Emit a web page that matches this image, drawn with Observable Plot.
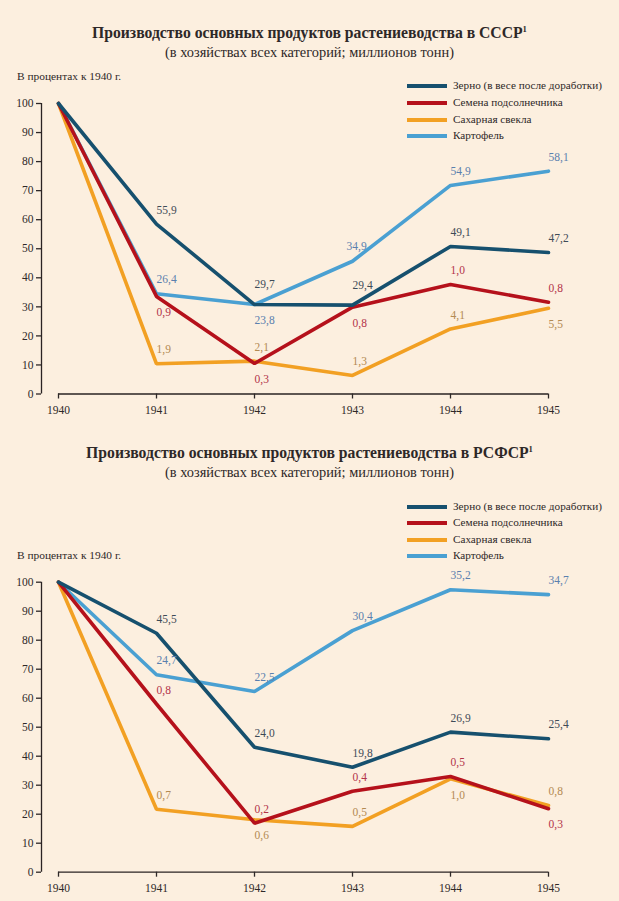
<!DOCTYPE html>
<html><head><meta charset="utf-8">
<script src="https://cdn.jsdelivr.net/npm/d3@7"></script>
<script src="https://cdn.jsdelivr.net/npm/@observablehq/plot@0.6"></script>
<style>
body{margin:0;background:#fcefdf;font-family:"Liberation Serif","DejaVu Serif",serif;color:#2e2828}
#page{position:relative;width:619px;height:901px;overflow:hidden;background:#fcefdf}
.t{position:absolute;left:0;width:619px;text-align:center;line-height:1;white-space:nowrap}
.title{font-weight:bold;font-size:15.7px;top:0}
.sub{font-size:14.4px}
.unit{position:absolute;left:17px;font-size:11.4px;line-height:1;white-space:nowrap}
.leg{position:absolute;left:407px;font-size:11.2px;line-height:1;white-space:nowrap}
.leg span.sw{position:absolute;left:0;top:4px;width:40px;height:4px}
.leg span.tx{position:absolute;left:46px;top:0}
.plot{position:absolute;left:0}
svg.plot, svg.plot text{font-family:"Liberation Serif","DejaVu Serif",serif !important}
sup{font-size:0.55em;vertical-align:0.7em;line-height:0}
</style></head>
<body><div id="page"></div>
<script>
// ---------- data ----------
const years = [1940, 1941, 1942, 1943, 1944, 1945];
const seriesNames = ["Зерно (в весе после доработки)", "Семена подсолнечника", "Сахарная свекла", "Картофель"];
const yTicks = [0, 10, 20, 30, 40, 50, 60, 70, 80, 90, 100];

// СССР: % к 1940 г.
const ussrGrain     = [100, 58.5, 30.8, 30.6, 50.8, 48.7];
const ussrSunflower = [100, 33.6, 10.5, 29.9, 37.7, 31.6];
const ussrBeet      = [100, 10.4, 11.3, 6.4, 22.4, 29.5];
const ussrPotato    = [100, 34.5, 30.8, 45.7, 71.8, 76.7];
// СССР: млн т (1941–1945)
const ussrGrainMt     = ["55,9", "29,7", "29,4", "49,1", "47,2"];
const ussrSunflowerMt = ["0,9", "0,3", "0,8", "1,0", "0,8"];
const ussrBeetMt      = ["1,9", "2,1", "1,3", "4,1", "5,5"];
const ussrPotatoMt    = ["26,4", "23,8", "34,9", "54,9", "58,1"];

// РСФСР: % к 1940 г.
const rsfsrGrain     = [100, 82.4, 43.1, 36.2, 48.3, 46.0];
const rsfsrSunflower = [100, 58.0, 16.9, 27.9, 33.0, 21.9];
const rsfsrBeet      = [100, 21.7, 18.1, 15.8, 32.2, 23.0];
const rsfsrPotato    = [100, 68.1, 62.3, 83.3, 97.4, 95.7];
// РСФСР: млн т (1941–1945)
const rsfsrGrainMt     = ["45,5", "24,0", "19,8", "26,9", "25,4"];
const rsfsrSunflowerMt = ["0,8", "0,2", "0,4", "0,5", "0,3"];
const rsfsrBeetMt      = ["0,7", "0,6", "0,5", "1,0", "0,8"];
const rsfsrPotatoMt    = ["24,7", "22,5", "30,4", "35,2", "34,7"];

// ---------- layout / style ----------
const lineColors  = ["#16506e", "#b5111b", "#f2a023", "#4aa0d2"];
const labelColors = ["#3e4b57", "#b3344a", "#b38a52", "#5a80ae"];
// label placement: a = above, h = higher above, b = below, L = above, shifted left
const ussrPlace  = [["a","h","h","a","a"], ["b","b","b","a","a"], ["a","a","a","a","b"], ["a","b","L","a","a"]];
const rsfsrPlace = [["a","a","a","a","a"], ["a","a","a","a","b"], ["a","b","a","b","a"], ["a","a","a","a","a"]];
const drawOrder = [3, 2, 1, 0];
const placeDy = {a: -14, h: -20, b: 16, L: -15};
const placeDx = {a: 0, h: 0, b: 0, L: -6};
const serif = "'Liberation Serif', 'DejaVu Serif', serif";

function buildChart(values, mts, places, svgTop, marginTop, height, marginBottom) {
  const marks = [
    Plot.ruleX([1940], {y1: 0, y2: 100, dx: -17, stroke: "#2a2323", strokeWidth: 1.3}),
    Plot.ruleY([0], {x1: 1940, x2: 1945, stroke: "#2a2323", strokeWidth: 1.3}),
    Plot.axisY({ticks: yTicks, tickSize: 5, tickPadding: 3, label: null, strokeWidth: 1.3, fontFamily: serif, fontSize: 11.5}),
    Plot.axisX({ticks: years, tickFormat: d => String(d), tickSize: 5, tickPadding: 7, label: null, strokeWidth: 1.3, fontFamily: serif, fontSize: 11.5})
  ];
  for (const s of drawOrder) {
    const pts = years.map((year, i) => ({year, value: values[s][i]}));
    marks.push(Plot.line(pts, {x: "year", y: "value", stroke: lineColors[s], strokeWidth: 3.6, strokeLinejoin: "miter"}));
  }
  for (const s of drawOrder) {
    const labs = years.slice(1).map((year, i) => ({year, value: values[s][i + 1], text: mts[s][i], place: places[s][i]}));
    for (const p of ["a", "h", "b", "L"]) {
      marks.push(Plot.text(labs.filter(d => d.place === p), {
        x: "year", y: "value", text: "text", fill: labelColors[s],
        textAnchor: "start", dx: placeDx[p], dy: placeDy[p], fontSize: 11.5, fontFamily: serif
      }));
    }
  }
  const svg = Plot.plot({
    width: 619, height, marginTop, marginBottom, marginLeft: 41, marginRight: 71,
    x: {domain: [1940, 1945], insetLeft: 17},
    y: {domain: [0, 100]},
    style: {background: "transparent", color: "#2e2828", fontFamily: serif, fontSize: "11.5px", overflow: "visible"},
    marks
  });
  svg.classList.add("plot");
  svg.style.top = svgTop + "px";
  return svg;
}

const page = document.getElementById("page");
function addText(cls, top, html) {
  const d = document.createElement("div");
  d.className = cls; d.style.top = top + "px"; d.innerHTML = html;
  page.appendChild(d);
}
function addLegend(tops) {
  seriesNames.forEach((name, i) => {
    const d = document.createElement("div");
    d.className = "leg"; d.style.top = tops[i] + "px";
    d.innerHTML = `<span class="sw" style="background:${lineColors[i]}"></span><span class="tx">${name}</span>`;
    page.appendChild(d);
  });
}

addText("t title", 25, "Производство основных продуктов растениеводства в СССР<sup>1</sup>");
addText("t sub", 45, "(в хозяйствах всех категорий; миллионов тонн)");
addText("unit", 71, "В процентах к 1940 г.");
addLegend([80, 97, 114, 130]);
page.appendChild(buildChart(
  [ussrGrain, ussrSunflower, ussrBeet, ussrPotato],
  [ussrGrainMt, ussrSunflowerMt, ussrBeetMt, ussrPotatoMt],
  ussrPlace, 80, 23, 340, 26.5));

addText("t title", 445, "Производство основных продуктов растениеводства в РСФСР<sup>1</sup>");
addText("t sub", 465, "(в хозяйствах всех категорий; миллионов тонн)");
addText("unit", 550, "В процентах к 1940 г.");
addLegend([501, 517, 534, 550]);
page.appendChild(buildChart(
  [rsfsrGrain, rsfsrSunflower, rsfsrBeet, rsfsrPotato],
  [rsfsrGrainMt, rsfsrSunflowerMt, rsfsrBeetMt, rsfsrPotatoMt],
  rsfsrPlace, 560, 21.7, 341, 29.3));
</script>
</body></html>
